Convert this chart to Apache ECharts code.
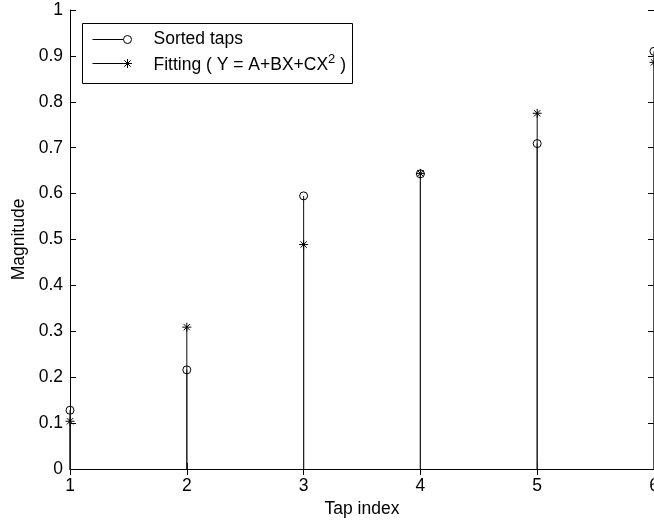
<!DOCTYPE html>
<html>
<head>
<meta charset="utf-8">
<script src="https://cdn.jsdelivr.net/npm/echarts@6/dist/echarts.min.js"></script>
<style>
  html, body { margin: 0; padding: 0; background: #fff; }
  #chart { width: 654px; height: 522px; }
</style>
</head>
<body>
<div id="chart"></div>
<script>
// Tap magnitudes, sorted, and the quadratic fit evaluated at each tap
const tapIndex = [1, 2, 3, 4, 5, 6];
const sortedTaps = [0.128, 0.216, 0.595, 0.643, 0.709, 0.910];
const fittedTaps = [0.104, 0.309, 0.489, 0.644, 0.775, 0.886];

const FONT = '"Liberation Sans", Arial, Helvetica, sans-serif';
const FS = 17.5;
const INK = '#000';
const ASTERISK = 'path://M0,5L10,5M5,0L5,10M1.5,1.5L8.5,8.5M1.5,8.5L8.5,1.5';

// Vertical stems from zero up to each value
function stemSeries(name, values) {
  return {
    name: name,
    type: 'custom',
    clip: false,
    silent: true,
    data: tapIndex.map((x, i) => [x, values[i]]),
    renderItem: function (params, api) {
      const top = api.coord([api.value(0), api.value(1)]);
      const base = api.coord([api.value(0), 0]);
      return {
        type: 'line',
        shape: { x1: base[0], y1: base[1], x2: top[0], y2: top[1] },
        style: { stroke: '#222', lineWidth: 1.1 }
      };
    }
  };
}

function markerSeries(name, values, symbol, size) {
  return {
    name: name,
    type: 'scatter',
    clip: false,
    silent: true,
    symbol: symbol,
    symbolSize: size,
    data: tapIndex.map((x, i) => [x, values[i]]),
    itemStyle: { color: 'rgba(0,0,0,0)', borderColor: INK, borderWidth: 1, opacity: 1 },
    z: 5
  };
}

const axisCommon = {
  axisLine: { show: true, lineStyle: { color: INK, width: 1 } },
  splitLine: { show: false }
};

const chart = echarts.init(document.getElementById('chart'), null, { renderer: 'canvas' });

chart.setOption({
  animation: false,
  backgroundColor: '#fff',
  textStyle: { fontFamily: FONT },
  grid: { left: 70, right: 0, top: 10, bottom: 53, containLabel: false, outerBoundsMode: 'none' },
  xAxis: [
    Object.assign({}, axisCommon, {
      type: 'value', position: 'bottom', min: 1, max: 6, interval: 1,
      axisTick: { show: true, inside: true, length: 6, lineStyle: { color: INK } },
      axisLabel: { color: INK, fontSize: FS, fontFamily: FONT, margin: 8 },
      name: 'Tap index', nameLocation: 'middle', nameGap: 30,
      nameTextStyle: { color: INK, fontSize: FS, fontFamily: FONT }
    }),
    Object.assign({}, axisCommon, {
      type: 'value', position: 'top', min: 1, max: 6, interval: 1,
      axisTick: { show: true, inside: true, length: 6, lineStyle: { color: INK } },
      axisLabel: { show: false }
    })
  ],
  yAxis: [
    Object.assign({}, axisCommon, {
      type: 'value', position: 'left', min: 0, max: 1, interval: 0.1,
      axisTick: { show: true, inside: true, length: 6, lineStyle: { color: INK } },
      axisLabel: { color: INK, fontSize: FS, fontFamily: FONT, margin: 7 },
      name: 'Magnitude', nameLocation: 'middle', nameGap: 41,
      nameTextStyle: { color: INK, fontSize: FS, fontFamily: FONT }
    }),
    Object.assign({}, axisCommon, {
      type: 'value', position: 'right', min: 0, max: 1, interval: 0.1,
      axisTick: { show: true, inside: true, length: 6, lineStyle: { color: INK } },
      axisLabel: { show: false }
    })
  ],
  series: [
    stemSeries('Sorted taps stems', sortedTaps),
    stemSeries('Fitting stems', fittedTaps),
    markerSeries('Sorted taps', sortedTaps, 'circle', 8),
    markerSeries('Fitting ( Y = A+BX+CX2 )', fittedTaps, ASTERISK, 9)
  ],
  graphic: [
    {
      type: 'group', left: 82, top: 23, z: 100,
      children: [
        { type: 'rect', shape: { x: 0, y: 0, width: 270, height: 60 },
          style: { fill: '#fff', stroke: INK, lineWidth: 1 } },
        { type: 'line', shape: { x1: 10, y1: 16, x2: 45, y2: 16 }, style: { stroke: INK, lineWidth: 1 } },
        { type: 'circle', shape: { cx: 45, cy: 16, r: 4 }, style: { fill: '#fff', stroke: INK, lineWidth: 1 } },
        { type: 'text', x: 71, y: 16,
          style: { text: 'Sorted taps', fill: INK, font: FS + 'px ' + FONT, verticalAlign: 'middle' } },
        { type: 'line', shape: { x1: 10, y1: 40, x2: 45, y2: 40 }, style: { stroke: INK, lineWidth: 1 } },
        { type: 'line', shape: { x1: 40.5, y1: 40, x2: 49.5, y2: 40 }, style: { stroke: INK, lineWidth: 1 } },
        { type: 'line', shape: { x1: 45, y1: 35.5, x2: 45, y2: 44.5 }, style: { stroke: INK, lineWidth: 1 } },
        { type: 'line', shape: { x1: 41.8, y1: 36.8, x2: 48.2, y2: 43.2 }, style: { stroke: INK, lineWidth: 1 } },
        { type: 'line', shape: { x1: 41.8, y1: 43.2, x2: 48.2, y2: 36.8 }, style: { stroke: INK, lineWidth: 1 } },
        { type: 'text', x: 71, y: 40,
          style: {
            text: '{a|Fitting ( Y = A+BX+CX}{s|2}{a| )}',
            verticalAlign: 'middle',
            rich: {
              a: { fill: INK, fontSize: FS, fontFamily: FONT, lineHeight: 22, verticalAlign: 'bottom' },
              s: { fill: INK, fontSize: 13, fontFamily: FONT, lineHeight: 22, verticalAlign: 'top' }
            }
          } }
      ]
    }
  ]
});
</script>
</body>
</html>
